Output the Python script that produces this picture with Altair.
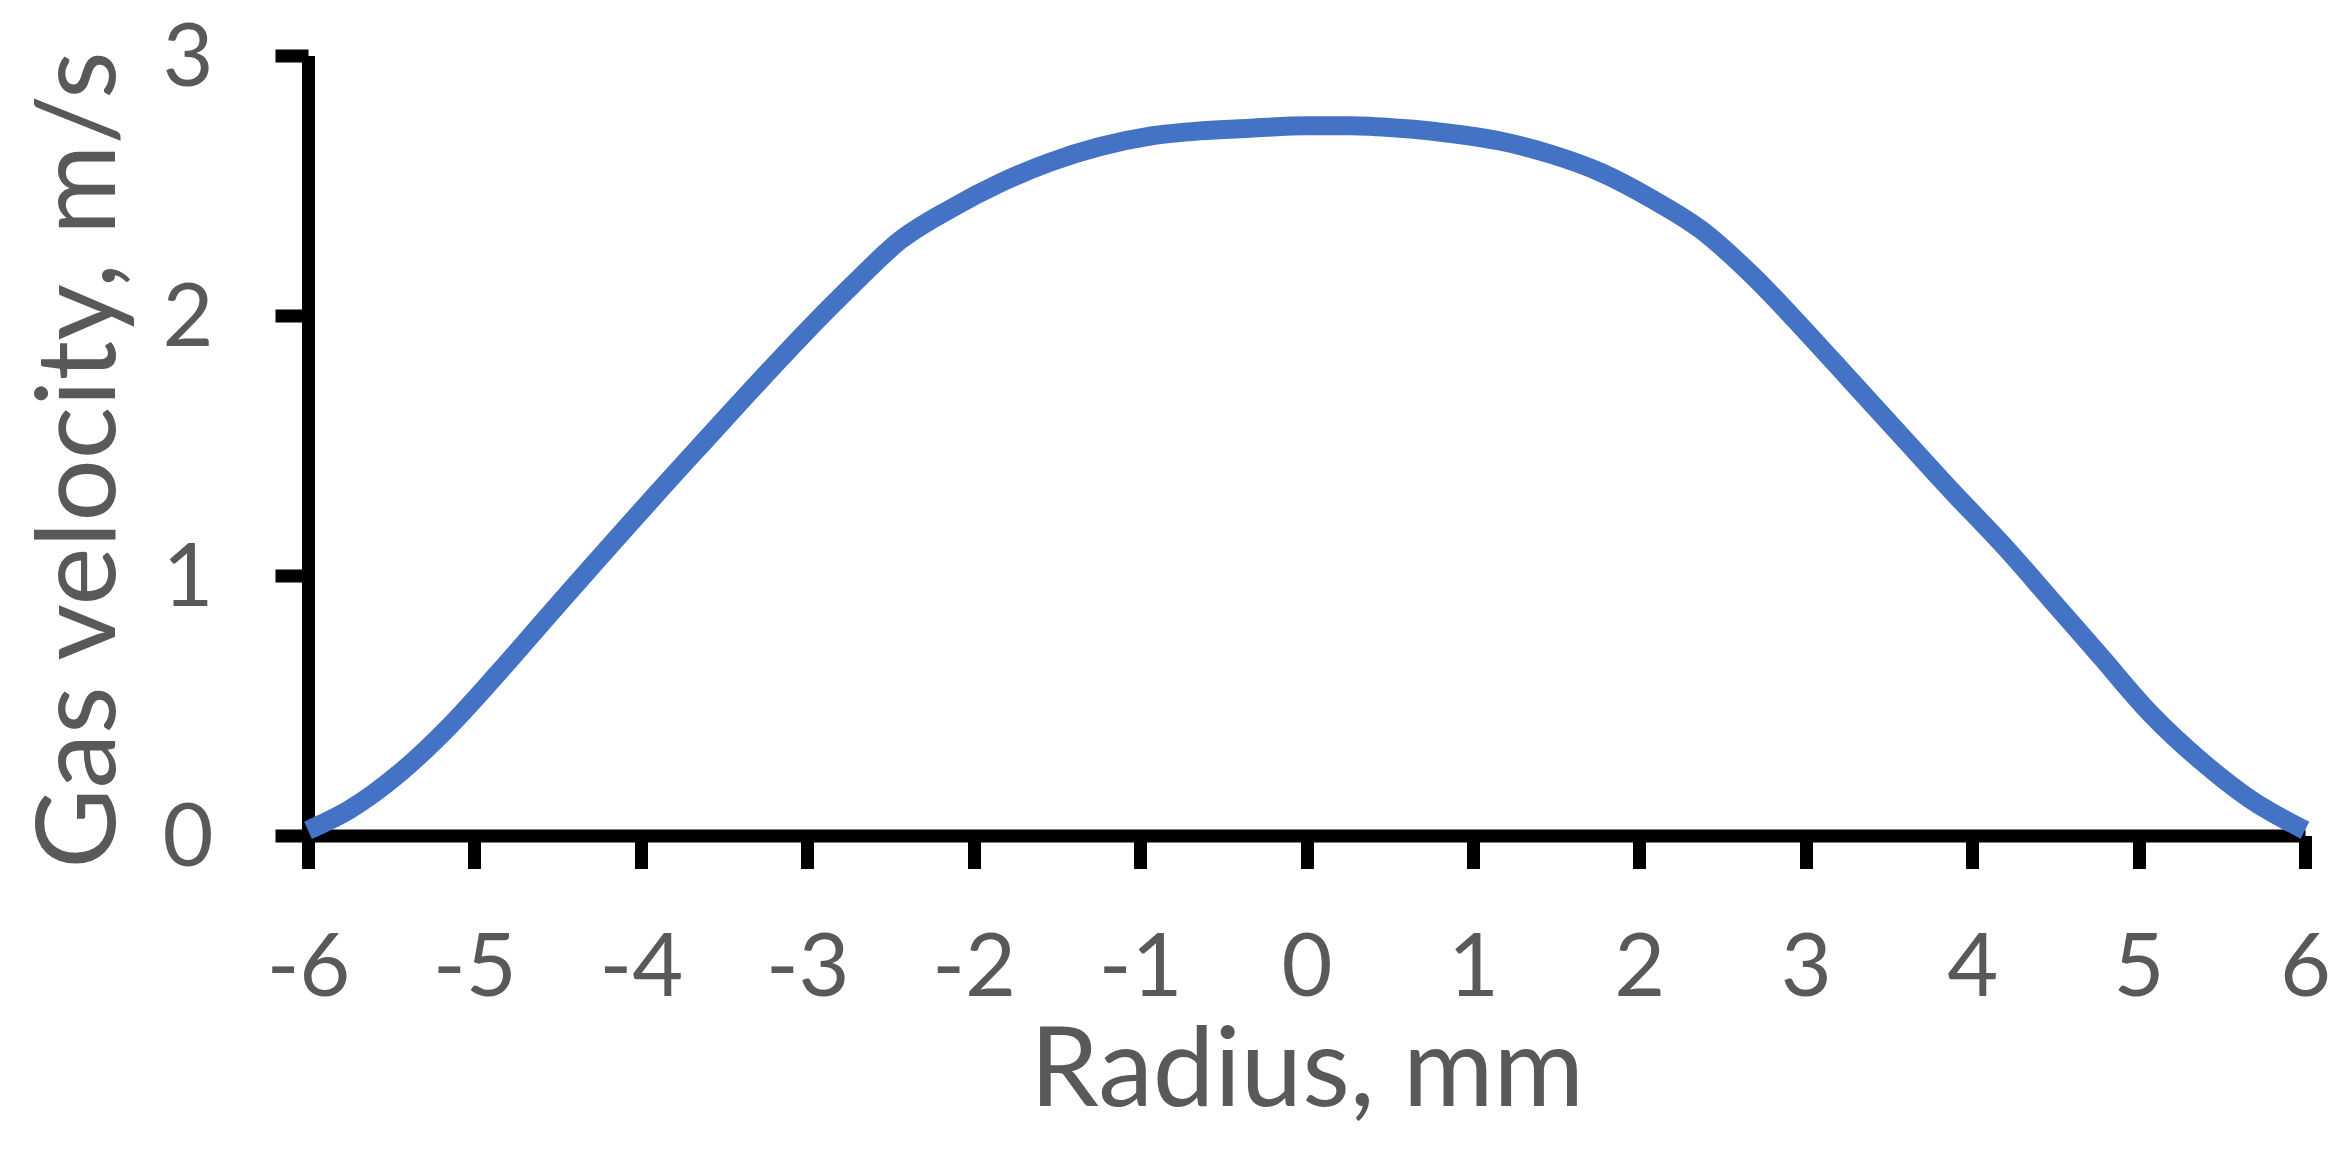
import altair as alt
import pandas as pd

# Values
radius = [-6.0, -5.75, -5.45, -5.15, -4.85, -4.55, -3.67, -2.82, -2.74, -2.44,
          -2.14, -1.84, -1.54, -1.24, -0.94, -0.64, -0.34, 0.0, 0.26, 0.56,
          0.87, 1.17, 1.47, 1.77, 2.07, 2.37, 2.67, 2.97, 3.27, 3.57,
          3.87, 4.21, 4.47, 4.77, 5.07, 5.37, 5.67, 6.0]
velocity = [0.02, 0.10, 0.24, 0.42, 0.63, 0.85, 1.48, 2.06, 2.11, 2.29,
            2.41, 2.51, 2.59, 2.65, 2.69, 2.71, 2.72, 2.73, 2.73, 2.72,
            2.70, 2.67, 2.62, 2.55, 2.45, 2.33, 2.16, 1.96, 1.75, 1.54,
            1.33, 1.10, 0.91, 0.69, 0.47, 0.29, 0.14, 0.02]
x_ticks = [-6, -5, -4, -3, -2, -1, 0, 1, 2, 3, 4, 5, 6]
y_ticks = [0, 1, 2, 3]

df = pd.DataFrame({"radius": radius, "velocity": velocity})

FONT = "Lato"
GREY = "#595959"

chart = (
    alt.Chart(df)
    .mark_line(color="#4472C4", strokeWidth=19, interpolate="monotone")
    .encode(
        x=alt.X(
            "radius:Q",
            scale=alt.Scale(domain=[-6, 6], nice=False, zero=False),
            axis=alt.Axis(
                values=x_ticks,
                title="Radius, mm",
                labelExpr="'' + datum.value",
                labelPadding=57,
                titleBaseline="alphabetic",
                titleY=270,
            ),
        ),
        y=alt.Y(
            "velocity:Q",
            scale=alt.Scale(domain=[0, 3], nice=False),
            axis=alt.Axis(
                values=y_ticks,
                title="Gas velocity, m/s",
                labelPadding=62,
                labelOffset=4,
                titleBaseline="alphabetic",
                titleAngle=270,
                titleX=-194,
                titleY=404,
                titleAlign="center",
            ),
        ),
    )
    .properties(
        width=1997,
        height=780,
        autosize=alt.AutoSizeParams(type="none"),
        padding={"left": 300, "top": 47.5, "right": 30, "bottom": 300},
    )
    .configure_view(stroke=None)
    .configure_axis(
        grid=False,
        domainColor="black",
        domainWidth=13,
        tickColor="black",
        tickWidth=13,
        tickSize=33,
        labelFont=FONT,
        labelFontSize=88,
        labelColor=GREY,
        labelFlush=False,
        labelOverlap=False,
        labelBound=False,
        titleFont=FONT,
        titleFontSize=110,
        titleFontWeight="normal",
        titleColor=GREY,
    )
)

chart.save("out.html", embed_options={"renderer": "svg", "actions": False})
